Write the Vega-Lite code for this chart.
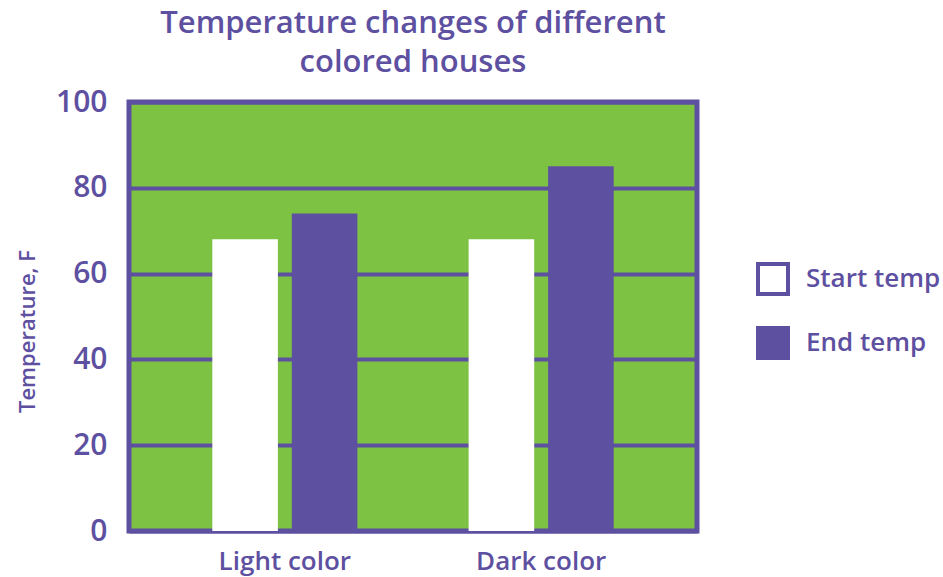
{
  "$schema": "https://vega.github.io/schema/vega-lite/v6.json",
  "autosize": "none",
  "padding": {"left": 129, "top": 102, "right": 246, "bottom": 46},
  "width": 568,
  "height": 429,
  "background": "white",
  "title": {
    "text": ["Temperature changes of different", "colored houses"],
    "font": "Open Sans",
    "fontSize": 31,
    "fontWeight": 600,
    "color": "#5E50A1",
    "lineHeight": 39,
    "anchor": "middle",
    "frame": "group",
    "offset": 8
  },
  "config": {
    "view": {"fill": "#7DC242", "stroke": "#5E50A1", "strokeWidth": 5},
    "font": "Open Sans"
  },
  "data": {
    "values": [
      {"house": "Light color", "series": "Start temp", "temp": 68},
      {"house": "Light color", "series": "End temp", "temp": 74},
      {"house": "Dark color", "series": "Start temp", "temp": 68},
      {"house": "Dark color", "series": "End temp", "temp": 85}
    ]
  },
  "mark": {"type": "bar"},
  "encoding": {
    "x": {
      "field": "house",
      "type": "nominal",
      "sort": ["Light color", "Dark color"],
      "scale": {"paddingInner": 0.434, "paddingOuter": 0.325},
      "axis": {
        "title": null,
        "labelAngle": 0,
        "ticks": false,
        "domain": false,
        "labelFont": "Open Sans",
        "labelFontSize": 26,
        "labelFontWeight": 600,
        "labelColor": "#5E50A1",
        "labelPadding": 17
      }
    },
    "xOffset": {
      "field": "series",
      "type": "nominal",
      "sort": ["Start temp", "End temp"],
      "scale": {"paddingInner": 0.175, "paddingOuter": 0}
    },
    "y": {
      "field": "temp",
      "type": "quantitative",
      "scale": {"domain": [0, 100]},
      "axis": {
        "title": "Temperature, F",
        "titleFont": "Open Sans",
        "titleFontSize": 22,
        "titleFontWeight": 600,
        "titleColor": "#5E50A1",
        "titleX": -102,
        "titleY": 229,
        "titleAngle": -90,
        "titleAlign": "center",
        "titleBaseline": "middle",
        "values": [0, 20, 40, 60, 80, 100],
        "ticks": false,
        "domain": false,
        "grid": true,
        "gridColor": "#5E50A1",
        "gridWidth": 4,
        "gridOpacity": 1,
        "labelFont": "Open Sans",
        "labelFontSize": 30,
        "labelFontWeight": 600,
        "labelColor": "#5E50A1",
        "labelPadding": 22
      }
    },
    "color": {
      "field": "series",
      "type": "nominal",
      "sort": ["Start temp", "End temp"],
      "scale": {"domain": ["Start temp", "End temp"], "range": ["#FFFFFF", "#5E50A1"]},
      "legend": {
        "title": null,
        "orient": "none",
        "legendX": 627,
        "legendY": 160,
        "symbolType": "square",
        "symbolSize": 900,
        "symbolStrokeColor": "#5E50A1",
        "symbolStrokeWidth": 4,
        "labelFont": "Open Sans",
        "labelFontSize": 26,
        "labelFontWeight": 600,
        "labelColor": "#5E50A1",
        "labelOffset": 16,
        "rowPadding": 18
      }
    }
  }
}
